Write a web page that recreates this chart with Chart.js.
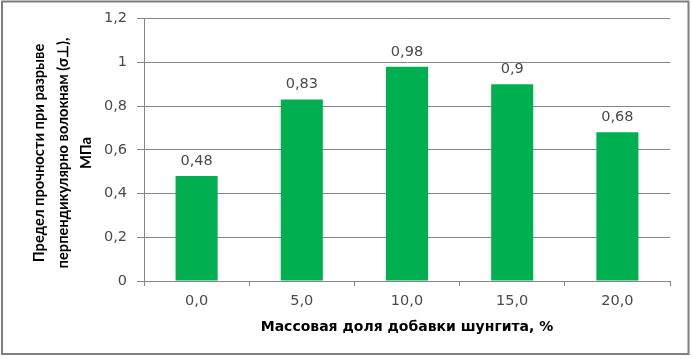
<!DOCTYPE html>
<html><head><meta charset="utf-8">
<script src="https://cdn.jsdelivr.net/npm/chart.js@4"></script>
<style>html,body{margin:0;padding:0;background:#fff}#wrap{width:692px;height:359px;position:relative}</style>
</head><body><div id="wrap"><canvas id="c" width="692" height="359"></canvas></div>
<script>
const categories = ['0,0', '5,0', '10,0', '15,0', '20,0'];
const strengthValues = [0.48, 0.83, 0.98, 0.9, 0.68];
const yTickValues = [0, 0.2, 0.4, 0.6, 0.8, 1, 1.2];
const yTitleLines = ['Предел прочности при разрыве', 'перпендикулярно волокнам (σ⊥),', 'МПа'];
const xTitleText = 'Массовая доля добавки шунгита, %';

const FONT = '"DejaVu Sans", Verdana, sans-serif';
const TITLE_FONT = 'Lato, "Open Sans", sans-serif';
const fmt = v => String(Number(v.toFixed(2))).replace('.', ',');

const framePlugin = {
  id: 'frame',
  beforeDraw(chart) {
    const ctx = chart.ctx;
    ctx.save();
    ctx.fillStyle = '#ffffff';
    ctx.fillRect(0, 0, chart.width, chart.height);
    ctx.strokeStyle = '#7f7f7f';
    ctx.lineWidth = 2;
    ctx.strokeRect(2, 1.5, 686.5, 352.5);
    ctx.restore();
  }
};

const labelsPlugin = {
  id: 'valueLabels',
  afterDatasetsDraw(chart) {
    const ctx = chart.ctx;
    const meta = chart.getDatasetMeta(0);
    ctx.save();
    ctx.font = '14.5px ' + FONT;
    ctx.fillStyle = '#4a4a4a';
    ctx.textAlign = 'center';
    ctx.textBaseline = 'middle';
    meta.data.forEach((bar, i) => {
      ctx.fillText(fmt(strengthValues[i]), bar.x, bar.y - 15);
    });
    ctx.restore();
  }
};

const yTitlePlugin = {
  id: 'yTitle',
  afterDraw(chart) {
    const ctx = chart.ctx;
    ctx.save();
    ctx.font = 'bold 14.7px ' + TITLE_FONT;
    ctx.fillStyle = '#000000';
    ctx.textAlign = 'center';
    ctx.textBaseline = 'middle';
    const xs = [39, 63, 86];
    yTitleLines.forEach((t, i) => {
      ctx.save();
      ctx.translate(xs[i], 153);
      ctx.rotate(-Math.PI / 2);
      ctx.fillText(t, 0, 0);
      ctx.restore();
    });
    ctx.restore();
  }
};

new Chart(document.getElementById('c'), {
  type: 'bar',
  data: {
    labels: categories,
    datasets: [{
      data: strengthValues,
      backgroundColor: '#00b050',
      borderWidth: 0,
      barPercentage: 0.4,
      categoryPercentage: 1.0
    }]
  },
  options: {
    responsive: false,
    animation: false,
    devicePixelRatio: 1,
    layout: { padding: { left: 0, right: 22, top: 18, bottom: 0 } },
    plugins: { legend: { display: false }, tooltip: { enabled: false } },
    scales: {
      x: {
        grid: { offset: true, drawOnChartArea: false, drawTicks: true, tickLength: 5, color: '#868686', lineWidth: 1 },
        border: { display: true, color: '#868686', width: 1 },
        ticks: { color: '#4a4a4a', font: { family: FONT, size: 14.5 }, padding: 7 },
        title: { display: true, text: xTitleText, color: '#000', font: { family: FONT, size: 14, weight: 'bold' }, padding: { top: 4, bottom: 23 } },
        afterFit(scale) { scale.height = 78; }
      },
      y: {
        min: 0, max: 1.2,
        afterBuildTicks(scale) { scale.ticks = yTickValues.map(v => ({ value: v })); },
        grid: { color: '#868686', lineWidth: 1, tickLength: 7 },
        border: { display: true, color: '#868686', width: 1 },
        ticks: { color: '#4a4a4a', font: { family: FONT, size: 14.5 }, padding: 10, callback: v => fmt(v) },
        afterFit(scale) { scale.width = 144; }
      }
    }
  },
  plugins: [framePlugin, labelsPlugin, yTitlePlugin]
});
</script>
</body></html>
